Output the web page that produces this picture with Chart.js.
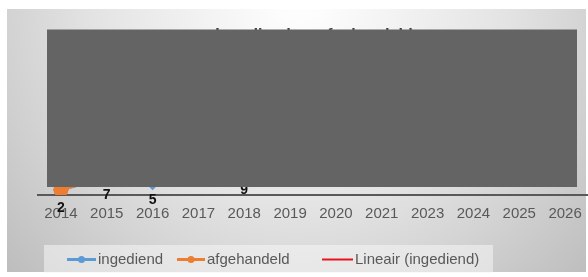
<!DOCTYPE html>
<html><head><meta charset="utf-8">
<script src="https://cdn.jsdelivr.net/npm/chart.js@4/dist/chart.umd.min.js"></script>
<style>html,body{margin:0;padding:0;background:#fff}canvas{display:block}</style>
</head><body>
<canvas id="c" width="588" height="277"></canvas>
<script>
const years = ['2014','2015','2016','2017','2018','2019','2020','2021','2023','2024','2025','2026'];
const ingediend = [2, 7, 5, 13, 9, 14, 16, 15, 17, 18, 16, 19];
const afgehandeld = [2, 7, 8, 10, 11, 12, 14, 15, 15, 16, 17, 18];
const seriesNames = ['ingediend', 'afgehandeld', 'Lineair (ingediend)'];
const titleText = 'Ingediend en afgehandeld';

function linearFit(vals) {
  const n = vals.length;
  let sx = 0, sy = 0, sxy = 0, sxx = 0;
  vals.forEach((v, i) => { sx += i; sy += v; sxy += i * v; sxx += i * i; });
  const b = (n * sxy - sx * sy) / (n * sxx - sx * sx);
  const a = (sy - b * sx) / n;
  return vals.map((v, i) => a + b * i);
}
const trend = linearFit(ingediend);

const FONT = "'Liberation Sans', Arial, sans-serif";
const BLUE = '#5B9BD5', ORANGE = '#ED7D31', RED = '#E8141B';

const bgPlugin = {
  id: 'bg',
  beforeDraw(chart) {
    const ctx = chart.ctx;
    ctx.save();
    ctx.fillStyle = '#fff';
    ctx.fillRect(0, 0, chart.width, chart.height);
    const g = ctx.createRadialGradient(300, 0, 20, 300, 0, 400);
    g.addColorStop(0, '#fdfdfd');
    g.addColorStop(0.5, '#e3e3e3');
    g.addColorStop(1, '#bdbdbd');
    ctx.fillStyle = g;
    ctx.fillRect(7, 9, 579, 263);
    ctx.fillStyle = 'rgba(245,245,245,0.55)';
    ctx.fillRect(44, 245, 449, 28);
    ctx.restore();
  }
};

const labelPlugin = {
  id: 'vals',
  afterDatasetsDraw(chart) {
    const ctx = chart.ctx;
    ctx.save();
    ctx.font = 'bold 14px ' + FONT;
    ctx.fillStyle = '#111';
    ctx.textAlign = 'center';
    ctx.textBaseline = 'middle';
    const m0 = chart.getDatasetMeta(0);
    m0.data.forEach((p, i) => ctx.fillText(String(ingediend[i]), p.x, p.y + 18));
    const m1 = chart.getDatasetMeta(1);
    m1.data.forEach((p, i) => ctx.fillText(String(afgehandeld[i]), p.x, p.y - 14));
    ctx.restore();
  }
};

const legendPlugin = {
  id: 'customLegend',
  afterDraw(chart) {
    const ctx = chart.ctx;
    ctx.save();
    const y = 259.5;
    const items = [
      {x: 67, w: 29, c: BLUE, lw: 3, marker: true, name: seriesNames[0]},
      {x: 177, w: 28, c: ORANGE, lw: 3, marker: true, name: seriesNames[1]},
      {x: 322, w: 31, c: RED, lw: 2, marker: false, name: seriesNames[2]}
    ];
    ctx.font = '15px ' + FONT;
    ctx.textBaseline = 'middle';
    items.forEach(it => {
      ctx.strokeStyle = it.c;
      ctx.lineWidth = it.lw;
      ctx.beginPath();
      ctx.moveTo(it.x, y);
      ctx.lineTo(it.x + it.w, y);
      ctx.stroke();
      if (it.marker) {
        ctx.fillStyle = it.c;
        ctx.beginPath();
        ctx.arc(it.x + it.w / 2, y, 3.5, 0, Math.PI * 2);
        ctx.fill();
      }
      ctx.fillStyle = '#595959';
      ctx.fillText(it.name, it.x + it.w + 2, y + 0.5);
    });
    ctx.restore();
  }
};

const coverPlugin = {
  id: 'cover',
  afterDraw(chart) {
    const ctx = chart.ctx;
    ctx.save();
    ctx.fillStyle = '#646464';
    ctx.fillRect(47, 29.5, 530, 157.5);
    ctx.restore();
  }
};

new Chart(document.getElementById('c'), {
  type: 'line',
  data: {
    labels: years,
    datasets: [
      {label: seriesNames[0], data: ingediend, borderColor: BLUE, backgroundColor: BLUE,
       borderWidth: 3, pointStyle: 'rectRot', pointRadius: 6, tension: 0, order: 1},
      {label: seriesNames[1], data: afgehandeld, borderColor: ORANGE, backgroundColor: ORANGE,
       borderWidth: 3, pointStyle: 'circle', pointRadius: 6, tension: 0, order: 0},
      {label: seriesNames[2], data: trend, borderColor: RED, backgroundColor: RED,
       borderWidth: 1.5, pointRadius: 0, tension: 0, order: 2}
    ]
  },
  options: {
    responsive: false,
    devicePixelRatio: 1,
    animation: false,
    layout: {autoPadding: false, padding: {left: 38, right: -2, top: 0, bottom: 0}},
    plugins: {
      legend: {display: false},
      tooltip: {enabled: false},
      title: {display: true, text: titleText, color: '#404040',
              font: {family: FONT, size: 16, weight: 'bold'}, padding: {top: 26, bottom: 1}}
    },
    scales: {
      x: {
        offset: true,
        grid: {display: false, drawTicks: false, offset: true},
        border: {display: true, color: '#595959', width: 2},
        ticks: {color: '#595959', font: {family: FONT, size: 15}, padding: 10, maxRotation: 0, autoSkip: false},
        afterFit: (s) => { s.height = 82; s.paddingLeft = 0; s.paddingRight = 0; }
      },
      y: {
        display: false,
        min: 0, max: 58
      }
    }
  },
  plugins: [bgPlugin, labelPlugin, legendPlugin, coverPlugin]
});
</script>
</body></html>
